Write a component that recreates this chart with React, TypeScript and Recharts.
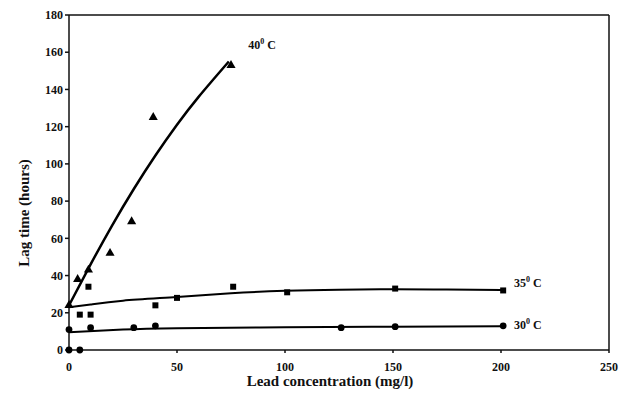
import { ComposedChart, Line, Scatter, XAxis, YAxis, ZAxis, ReferenceLine, ReferenceDot } from 'recharts'

// measured points, lead concentration (mg/l) vs lag time (hours)
const pts40 = [
  { x: 0, y: 24 }, { x: 4, y: 38 }, { x: 9, y: 43 }, { x: 19, y: 52 },
  { x: 29, y: 69 }, { x: 39, y: 125 }, { x: 75, y: 153 },
]
const pts35 = [
  { x: 5, y: 19 }, { x: 10, y: 19 }, { x: 9, y: 34 }, { x: 40, y: 24 },
  { x: 50, y: 28 }, { x: 76, y: 34 }, { x: 101, y: 31 }, { x: 151, y: 33 }, { x: 201, y: 32 },
]
const pts30 = [
  { x: 0, y: 11 }, { x: 10, y: 12 }, { x: 30, y: 12 }, { x: 40, y: 13 },
  { x: 126, y: 12 }, { x: 151, y: 12.5 }, { x: 201, y: 13 },
]
const ptsZero = [{ x: 0, y: 0 }, { x: 5, y: 0 }]

// fitted curves
const fit40 = [
  { x: 0, y: 24 }, { x: 10, y: 46 }, { x: 20, y: 67 }, { x: 30, y: 86.5 },
  { x: 40, y: 104.5 }, { x: 50, y: 121 }, { x: 60, y: 136 }, { x: 74, y: 155 },
]
const fit35 = [
  { x: 0, y: 23 }, { x: 10, y: 24.5 }, { x: 25, y: 26.5 }, { x: 50, y: 28.5 }, { x: 75, y: 30.5 },
  { x: 100, y: 31.8 }, { x: 125, y: 32.4 }, { x: 150, y: 32.6 }, { x: 175, y: 32.5 }, { x: 200, y: 32.3 },
]
const fit30 = [
  { x: 0, y: 9.5 }, { x: 25, y: 11 }, { x: 50, y: 11.7 }, { x: 100, y: 12.2 }, { x: 150, y: 12.5 }, { x: 200, y: 12.8 },
]

const xTicks = [0, 50, 100, 150, 200, 250]
const yTicks = [0, 20, 40, 60, 80, 100, 120, 140, 160, 180]

const FONT = 'Liberation Serif, DejaVu Serif, serif'
const tickStyle = { fontFamily: FONT, fontSize: 12, fontWeight: 700, fill: '#111' }

const tempLabel = (t: string) => (props: any) => {
  const { viewBox } = props
  return (
    <text x={viewBox.x} y={viewBox.y} dy={4} fontFamily={FONT} fontSize={12} fontWeight={700} fill="#111">
      {t}<tspan dy={-5} fontSize={8}>0</tspan><tspan dy={5}> C</tspan>
    </text>
  )
}

export default function App() {
  return (
    <div style={{ position: 'absolute', left: 0, top: 0, width: 622, height: 408, background: '#fff' }}>
      <ComposedChart width={622} height={408} margin={{ top: 15, right: 13, bottom: 28, left: 20 }} style={{ fontFamily: FONT }}>
        <XAxis
          type="number" dataKey="x" domain={[0, 250]} ticks={xTicks} allowDuplicatedCategory={false}
          stroke="#111" strokeWidth={1.5} tickSize={3} tick={{ ...tickStyle, dy: 7 }} height={30}
          label={{ content: () => (
            <text x={330} y={386} textAnchor="middle" fontFamily={FONT} fontSize={15} fontWeight={700} fill="#111">
              Lead concentration (mg/l)
            </text>
          ) }}
        />
        <YAxis
          type="number" dataKey="y" domain={[0, 180]} ticks={yTicks} width={49}
          stroke="#111" strokeWidth={1.5} tickSize={4} tick={tickStyle}
          label={{ content: () => (
            <text x={29} y={213} textAnchor="middle" transform="rotate(-90 29 213)" fontFamily={FONT} fontSize={15} fontWeight={700} fill="#111">
              Lag time (hours)
            </text>
          ) }}
        />
        <ZAxis range={[36, 36]} />
        <ReferenceLine y={180} stroke="#111" strokeWidth={1.5} />
        <ReferenceLine x={250} stroke="#111" strokeWidth={1.5} />
        <Line data={fit40} dataKey="y" type="natural" stroke="#000" strokeWidth={2.5} dot={false} isAnimationActive={false} />
        <Line data={fit35} dataKey="y" type="natural" stroke="#000" strokeWidth={2} dot={false} isAnimationActive={false} />
        <Line data={fit30} dataKey="y" type="natural" stroke="#000" strokeWidth={2} dot={false} isAnimationActive={false} />
        <Scatter data={pts40} dataKey="y" shape="triangle" fill="#000" isAnimationActive={false} />
        <Scatter data={pts35} dataKey="y" shape="square" fill="#000" isAnimationActive={false} />
        <Scatter data={pts30} dataKey="y" shape="circle" fill="#000" isAnimationActive={false} />
        <Scatter data={ptsZero} dataKey="y" shape="circle" fill="#000" isAnimationActive={false} />
        <ReferenceDot x={83} y={164} r={0} label={{ content: tempLabel('40') }} />
        <ReferenceDot x={206} y={36} r={0} label={{ content: tempLabel('35') }} />
        <ReferenceDot x={206} y={13.4} r={0} label={{ content: tempLabel('30') }} />
      </ComposedChart>
    </div>
  )
}
